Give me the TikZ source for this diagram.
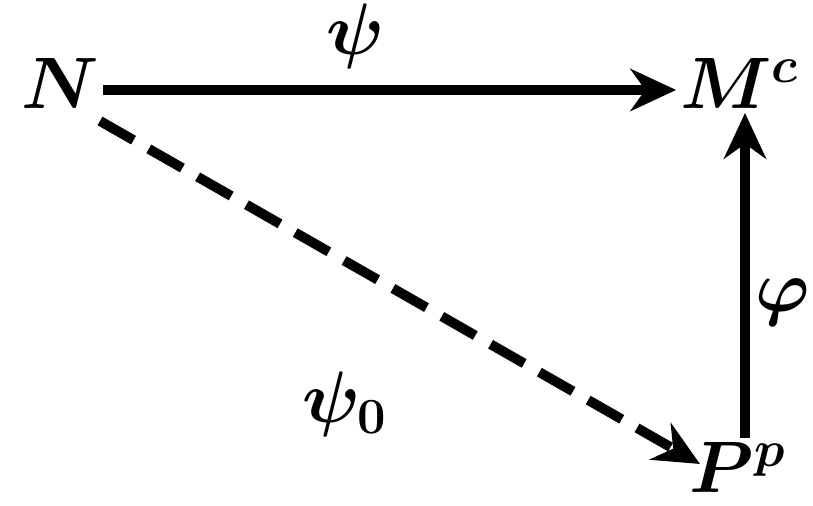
\documentclass[tikz,border=0pt]{standalone}
\usepackage{amsmath}
\usetikzlibrary{arrows.meta, positioning}

\tikzset{
  obj/.style={inner sep=1pt, font=\fontsize{22}{26}\selectfont\boldmath},
  lbl/.style={inner sep=1pt, font=\fontsize{21}{25}\selectfont\boldmath},
  map/.style={line width=2.8pt, -{Stealth[length=13pt, width=12pt]}},
}

\begin{document}
\begin{tikzpicture}
  \useasboundingbox (0,0) rectangle (8.13,5.06);
  % objects
  \node[obj] (N) at (0.60,4.22) {$N$};
  \node[obj] (M) at (7.40,4.22) {$M^{c}$};
  \node[obj] (P) at (7.38,0.38) {$P^{p}$};
  \coordinate (Pup) at (7.45,0.68);
  \coordinate (Mdn) at (7.45,3.93);
  \coordinate (Nse) at (1.0,3.85);
  \coordinate (Pnw) at (7.0,0.42);
  % maps
  \draw[map] (N.east) ++(0,-0.06) -- ([yshift=-0.06cm]M.west);
  \draw[map] (Pup) -- (Mdn);
  \draw[map, dash pattern=on 11pt off 5pt] (Nse) -- (Pnw);
  % labels
  \node[lbl] (psi) at (3.55,4.70) {$\psi$};
  \node[lbl] (psi0) at (3.45,1.02) {$\psi_0$};
  \node[lbl] (phi) at (7.83,2.04) {$\varphi$};
\end{tikzpicture}
\end{document}
